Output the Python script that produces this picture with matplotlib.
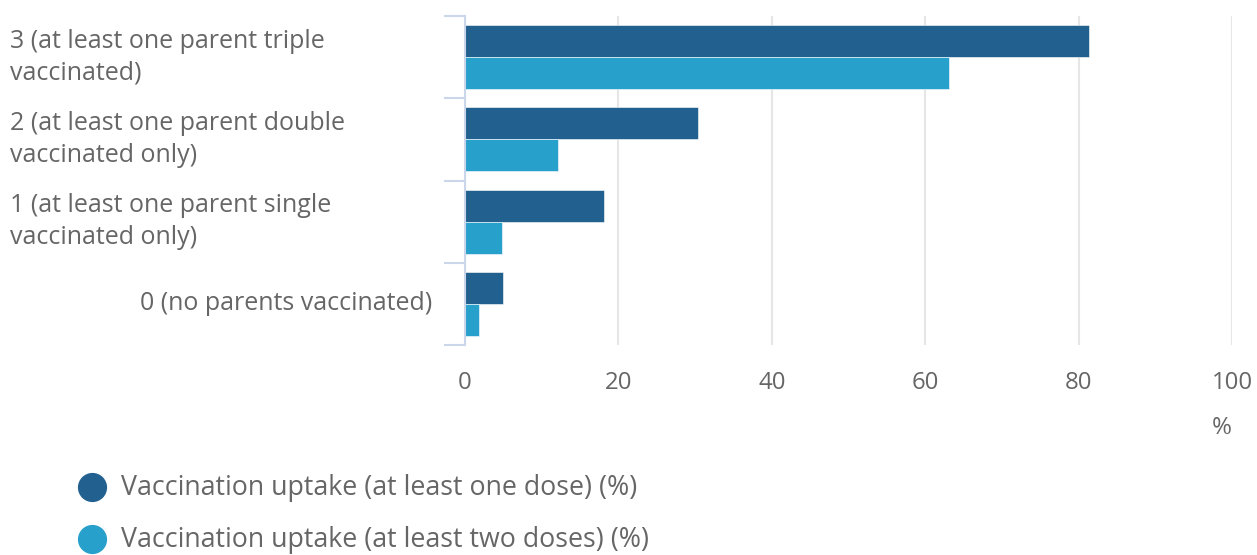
import matplotlib
matplotlib.use("Agg")
import matplotlib.pyplot as plt
from matplotlib.lines import Line2D
import matplotlib.transforms as mtransforms
import numpy as np

plt.rcParams['font.family'] = ['Open Sans', 'DejaVu Sans']

categories = ["0 (no parents vaccinated)",
              "1 (at least one parent single\nvaccinated only)",
              "2 (at least one parent double\nvaccinated only)",
              "3 (at least one parent triple\nvaccinated)"]
one_dose = [5.0, 18.1, 30.4, 81.4]
two_doses = [1.8, 4.8, 12.1, 63.1]
series_names = ["Vaccination uptake (at least one dose) (%)",
                "Vaccination uptake (at least two doses) (%)"]
xticks = [0, 20, 40, 60, 80, 100]

dark = "#22608f"
light = "#27a0cb"
text_col = "#666666"
axis_col = "#ccd6eb"
grid_col = "#e6e6e6"

W, H = 1257, 555
fig = plt.figure(figsize=(W / 100, H / 100), dpi=100)
left, right, top, bottom = 465, 1232, 16, 345
ax = fig.add_axes([left / W, 1 - bottom / H, (right - left) / W, (bottom - top) / H])

y = np.arange(len(categories))
bh = 0.39
ax.barh(y + bh / 2, one_dose, height=bh, color=dark, edgecolor="white", linewidth=0.4, zorder=3)
ax.barh(y - bh / 2, two_doses, height=bh, color=light, edgecolor="white", linewidth=0.4, zorder=3)

ax.set_xlim(0, 100)
ax.set_ylim(-0.5, len(categories) - 0.5)
ax.set_xticks(xticks)
ax.set_xticklabels([str(v) for v in xticks])
ax.tick_params(axis='x', length=0, pad=19, labelsize=17.3, labelcolor=text_col)
ax.grid(axis='x', color=grid_col, linewidth=1.5, zorder=0)

for s in ['top', 'right', 'bottom']:
    ax.spines[s].set_visible(False)
ax.spines['left'].set_color(axis_col)
ax.spines['left'].set_linewidth(1.5)
ax.spines['left'].set_zorder(4)

ax.set_yticks(np.arange(-0.5, len(categories), 1.0))
ax.set_yticklabels([])
ax.tick_params(axis='y', length=15, width=1.5, color=axis_col)

trans = mtransforms.blended_transform_factory(fig.transFigure, ax.transData)
for i, lab in enumerate(categories):
    if "\n" in lab:
        ax.text(10 / W, i, lab, transform=trans, ha='left', va='center',
                fontsize=18, color=text_col, linespacing=1.33)
    else:
        ax.text(432 / W, i, lab, transform=trans, ha='right', va='center',
                fontsize=18, color=text_col)

fig.text(1222 / W, 1 - 428 / H, "%", ha='center', va='center', fontsize=17.3, color=text_col)

for (yy, col, name) in [(487, dark, series_names[0]), (539, light, series_names[1])]:
    fig.add_artist(Line2D([92 / W], [1 - yy / H], marker='o', markersize=20,
                          color=col, linestyle='none', transform=fig.transFigure))
    fig.text(121 / W, 1 - (yy + 1) / H, name, ha='left', va='center', fontsize=19.3, color=text_col)

fig.savefig("out.png", dpi=100)
